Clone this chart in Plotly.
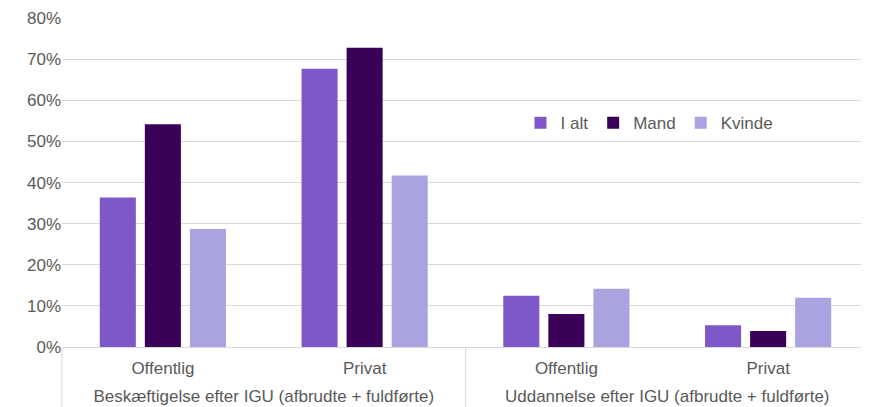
import plotly.graph_objects as go
from plotly.subplots import make_subplots

group_names = ["Beskæftigelse efter IGU (afbrudte + fuldførte)",
               "Uddannelse efter IGU (afbrudte + fuldførte)"]
sectors = ["Offentlig", "Privat"]
i_alt = [[0.364, 0.677], [0.125, 0.053]]
mand = [[0.542, 0.728], [0.080, 0.039]]
kvinde = [[0.287, 0.417], [0.142, 0.120]]
y_ticks = [0, 0.1, 0.2, 0.3, 0.4, 0.5, 0.6, 0.7, 0.8]

series = [("I alt", i_alt, "#7E57C8"), ("Mand", mand, "#3B0058"), ("Kvinde", kvinde, "#A9A4E0")]

fig = make_subplots(rows=1, cols=2, shared_yaxes=True, horizontal_spacing=0)
for g in range(2):
    for name, vals, col in series:
        fig.add_trace(go.Bar(x=sectors, y=vals[g], name=name, marker_color=col,
                             marker_line_width=0, legendgroup=name,
                             showlegend=(g == 0)), row=1, col=g + 1)
    fig.update_xaxes(title_text=group_names[g], row=1, col=g + 1)

fig.update_layout(
    width=861, height=399,
    margin=dict(l=54, r=0, t=10, b=60),
    plot_bgcolor="white", paper_bgcolor="white",
    font=dict(family="Liberation Sans, Arial", size=17, color="#595959"),
    barmode="group", bargap=0.33, bargroupgap=0.2,
    legend=dict(orientation="h", x=0.728, y=0.68, xanchor="center", yanchor="middle",
                font=dict(size=17, color="#595959"), bgcolor="rgba(0,0,0,0)",
                itemwidth=30, traceorder="normal"),
    showlegend=True,
)
for x0 in [0, 0.5, 1]:
    fig.add_shape(type="line", xref="paper", yref="paper", x0=x0, x1=x0, y0=0, y1=-0.2,
                  line=dict(color="#D9D9D9", width=1))
fig.update_yaxes(range=[0, 0.8005], tickvals=y_ticks, tickformat=".0%", gridcolor="#D9D9D9",
                 gridwidth=1, zeroline=False, showline=False, ticks="",
                 ticklabeloverflow="allow", automargin=False)
fig.update_xaxes(showline=True, linecolor="#D9D9D9", linewidth=1,
                 ticks="", ticklabelstandoff=6,
                 title_font=dict(size=17, color="#595959"), title_standoff=12,
                 automargin=False)
fig.write_html("out.html")
